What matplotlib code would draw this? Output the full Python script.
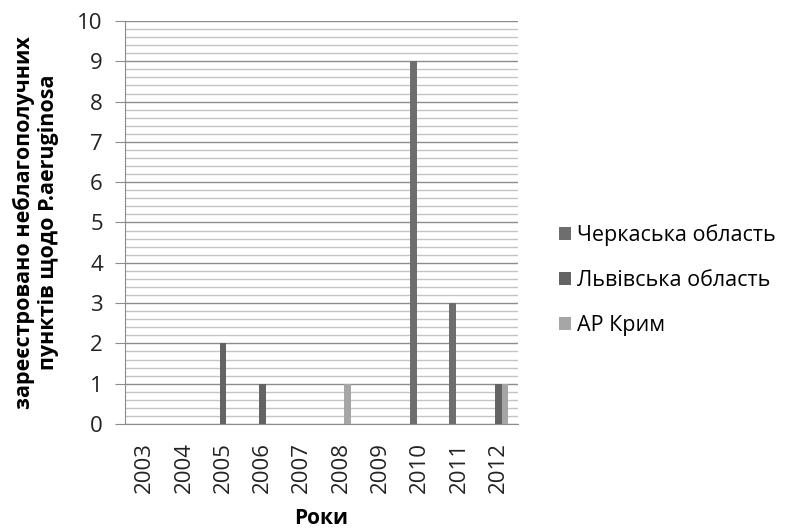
import numpy as np
import matplotlib.pyplot as plt
from matplotlib.ticker import MultipleLocator

plt.rcParams['font.family'] = ['Open Sans', 'DejaVu Sans']

years = ['2003', '2004', '2005', '2006', '2007', '2008', '2009', '2010', '2011', '2012']
cherkasy = [0, 0, 0, 0, 0, 0, 0, 9, 3, 0]
lviv = [0, 0, 2, 1, 0, 0, 0, 0, 0, 1]
crimea = [0, 0, 0, 0, 0, 1, 0, 0, 0, 1]
names = ['Черкаська область', 'Львівська область', 'АР Крим']
colors = ['#6e6e6e', '#646464', '#a6a6a6']

fig = plt.figure(figsize=(7.94, 5.32), dpi=100)
ax = fig.add_axes([125/794, 1-424/532, 393/794, 403/532])

x = np.arange(len(years))
w = 0.163
for i, (vals, name, c) in enumerate(zip([cherkasy, lviv, crimea], names, colors)):
    ax.bar(x + (i-1)*w, vals, w, color=c, label=name, zorder=3)

ax.set_xlim(-0.5, len(years)-0.5)
ax.set_ylim(0, 10)
ax.yaxis.set_major_locator(MultipleLocator(1))
ax.yaxis.set_minor_locator(MultipleLocator(0.2))
ax.grid(which='major', axis='y', color='#8c8c8c', lw=1, zorder=0)
ax.grid(which='minor', axis='y', color='#c4c4c4', lw=1, zorder=0)
ax.set_axisbelow(True)

for s in ['top', 'right']:
    ax.spines[s].set_visible(False)
ax.spines['left'].set_color('#8c8c8c')
ax.spines['bottom'].set_color('#8c8c8c')

ax.set_xticks(x)
ax.set_xticklabels(years, rotation=90, fontsize=16)
ax.tick_params(axis='x', length=0, pad=13, labelcolor='#222222')
ax.tick_params(axis='y', which='major', length=7, color='#8c8c8c', labelsize=16,
               pad=9, labelcolor='#222222')
ax.tick_params(axis='y', which='minor', length=0)

ax.set_xlabel('Роки', fontsize=15, fontweight='bold', labelpad=11)
ax.set_ylabel('зареєстровано неблагополучних\nпунктів щодо P.aeruginosa',
              fontsize=15.5, fontweight='bold', labelpad=13, linespacing=1.2)

ax.legend(loc='center left', bbox_to_anchor=(1.055, 0.357), frameon=False,
          fontsize=15.5, handlelength=0.55, handleheight=0.55, handletextpad=0.3,
          labelspacing=1.1, borderpad=0.4)

fig.savefig('out.png', dpi=100)
